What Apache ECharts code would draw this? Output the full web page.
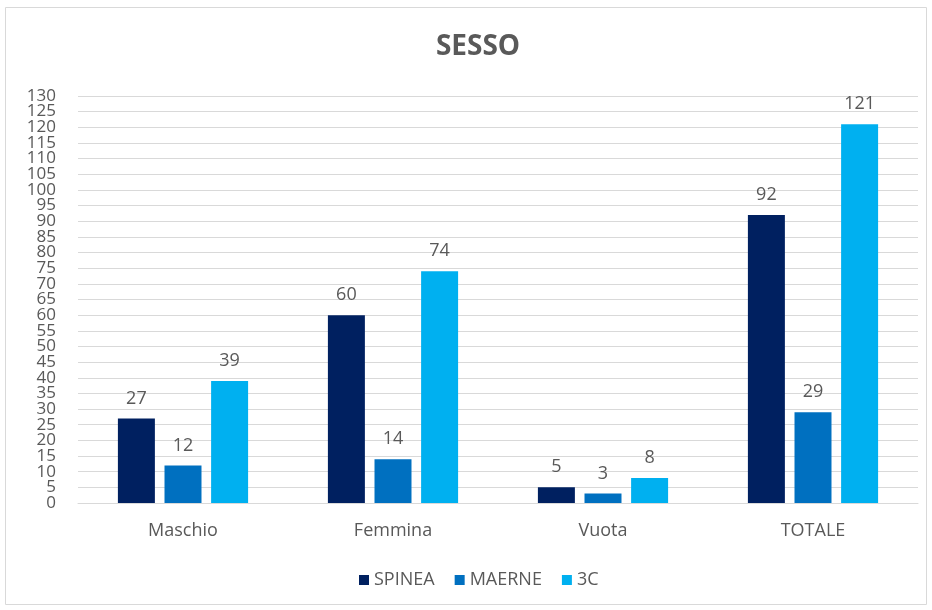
<!DOCTYPE html>
<html><head><meta charset="utf-8">
<script src="https://cdn.jsdelivr.net/npm/echarts@6/dist/echarts.min.js"></script>
<style>html,body{margin:0;padding:0;background:#fff}#c{width:932px;height:610px}</style>
</head><body><div id="c"></div>
<script>
const categories = ['Maschio', 'Femmina', 'Vuota', 'TOTALE'];
const seriesNames = ['SPINEA', 'MAERNE', '3C'];
const spinea = [27, 60, 5, 92];
const maerne = [12, 14, 3, 29];
const c3 = [39, 74, 8, 121];
const colors = ['#002060', '#0070C0', '#00B0F0'];
const yMin = 0, yMax = 130, yStep = 5;
const font = '"Open Sans", "Liberation Sans", sans-serif';
const chart = echarts.init(document.getElementById('c'));
const mk = (name, data, color) => ({
  name, type: 'bar', data, yAxisIndex: 0, barGap: '26%', barCategoryGap: '38%',
  itemStyle: { color },
  label: { show: true, position: 'top', distance: 11, color: '#595959', fontSize: 18, fontFamily: font }
});
const yLabelStyle = { fontFamily: font, fontSize: 17, color: '#595959', margin: 22, hideOverlap: false };
chart.setOption({
  animation: false,
  graphic: [{ type: 'rect', shape: { x: 5.5, y: 7.5, width: 921, height: 597 }, style: { fill: 'none', stroke: '#d9d9d9', lineWidth: 1 } }],
  title: { text: 'SESSO', left: 473, textAlign: 'center', top: 28, textStyle: { fontFamily: font, fontSize: 28, fontWeight: 'bold', color: '#595959' } },
  legend: { top: 566, left: 354, itemWidth: 10, itemHeight: 10, itemGap: 20, icon: 'rect',
    textStyle: { fontFamily: font, fontSize: 18, color: '#595959' } },
  grid: { left: 78, right: 14, top: 96, bottom: 107, containLabel: false },
  xAxis: { type: 'category', data: categories,
    axisLine: { show: true, lineStyle: { color: '#d9d9d9' } }, axisTick: { show: false },
    axisLabel: { fontFamily: font, fontSize: 18, color: '#595959', margin: 19 } },
  yAxis: [
    { type: 'value', min: yMin, max: yMax, interval: yStep, position: 'left',
      axisLine: { show: false }, axisTick: { show: false },
      axisLabel: Object.assign({ showMinLabel: false, showMaxLabel: false }, yLabelStyle),
      splitLine: { lineStyle: { color: '#d9d9d9', width: 1 } } },
    { type: 'value', min: yMin, max: yMax, interval: yStep, position: 'left', offset: 0,
      axisLine: { show: false }, axisTick: { show: false }, splitLine: { show: false },
      axisLabel: Object.assign({ showMinLabel: true, showMaxLabel: true,
        formatter: v => (v === yMin || v === yMax) ? String(v) : '' }, yLabelStyle) }
  ],
  series: [mk(seriesNames[0], spinea, colors[0]), mk(seriesNames[1], maerne, colors[1]), mk(seriesNames[2], c3, colors[2])]
});
</script></body></html>
